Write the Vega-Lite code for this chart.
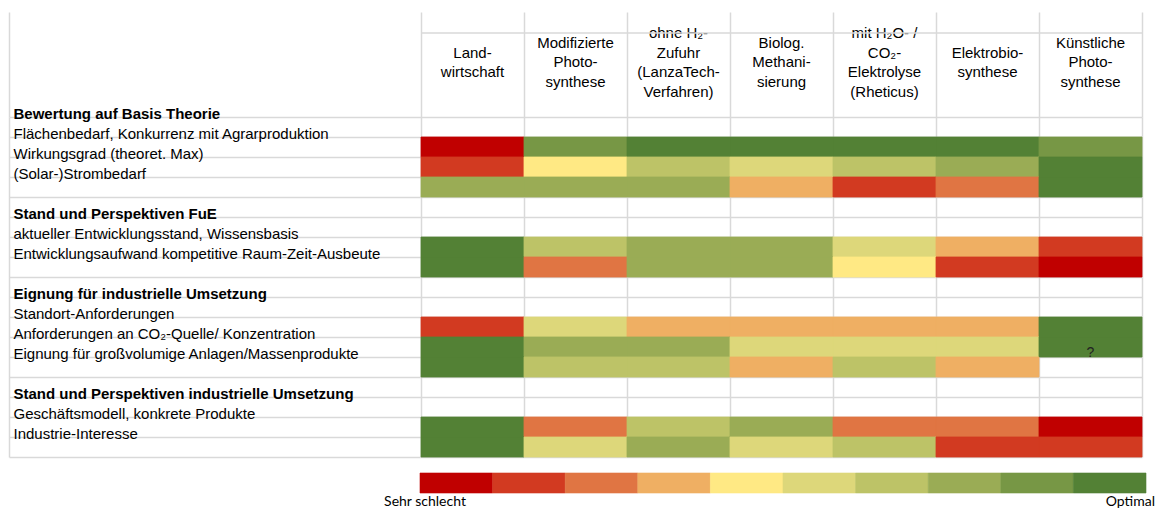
{
  "$schema": "https://vega.github.io/schema/vega-lite/v6.json",
  "padding": {"left": 9, "top": 12, "right": 0, "bottom": 0},
  "background": "white",
  "config": {"view": {"stroke": null}, "font": "Liberation Sans"},
  "datasets": {
    "methods": [
      {"method": "m1", "head": "Land-\nwirtschaft"},
      {"method": "m2", "head": "Modifizierte\nPhoto-\nsynthese"},
      {"method": "m3", "head": "ohne H₂-\nZufuhr\n(LanzaTech-\nVerfahren)"},
      {"method": "m4", "head": "Biolog.\nMethani-\nsierung"},
      {"method": "m5", "head": "mit H₂O- /\nCO₂-\nElektrolyse\n(Rheticus)"},
      {"method": "m6", "head": "Elektrobio-\nsynthese"},
      {"method": "m7", "head": "Künstliche\nPhoto-\nsynthese"}
    ],
    "cells": [
      {"row": "Flächenbedarf, Konkurrenz mit Agrarproduktion", "method": "m1", "rating": 1},
      {"row": "Flächenbedarf, Konkurrenz mit Agrarproduktion", "method": "m2", "rating": 9},
      {"row": "Flächenbedarf, Konkurrenz mit Agrarproduktion", "method": "m3", "rating": 10},
      {"row": "Flächenbedarf, Konkurrenz mit Agrarproduktion", "method": "m4", "rating": 10},
      {"row": "Flächenbedarf, Konkurrenz mit Agrarproduktion", "method": "m5", "rating": 10},
      {"row": "Flächenbedarf, Konkurrenz mit Agrarproduktion", "method": "m6", "rating": 10},
      {"row": "Flächenbedarf, Konkurrenz mit Agrarproduktion", "method": "m7", "rating": 9},
      {"row": "Wirkungsgrad (theoret. Max)", "method": "m1", "rating": 2},
      {"row": "Wirkungsgrad (theoret. Max)", "method": "m2", "rating": 5},
      {"row": "Wirkungsgrad (theoret. Max)", "method": "m3", "rating": 7},
      {"row": "Wirkungsgrad (theoret. Max)", "method": "m4", "rating": 6},
      {"row": "Wirkungsgrad (theoret. Max)", "method": "m5", "rating": 7},
      {"row": "Wirkungsgrad (theoret. Max)", "method": "m6", "rating": 8},
      {"row": "Wirkungsgrad (theoret. Max)", "method": "m7", "rating": 10},
      {"row": "(Solar-)Strombedarf", "method": "m1", "rating": 8},
      {"row": "(Solar-)Strombedarf", "method": "m2", "rating": 8},
      {"row": "(Solar-)Strombedarf", "method": "m3", "rating": 8},
      {"row": "(Solar-)Strombedarf", "method": "m4", "rating": 4},
      {"row": "(Solar-)Strombedarf", "method": "m5", "rating": 2},
      {"row": "(Solar-)Strombedarf", "method": "m6", "rating": 3},
      {"row": "(Solar-)Strombedarf", "method": "m7", "rating": 10},
      {"row": "aktueller Entwicklungsstand, Wissensbasis", "method": "m1", "rating": 10},
      {"row": "aktueller Entwicklungsstand, Wissensbasis", "method": "m2", "rating": 7},
      {"row": "aktueller Entwicklungsstand, Wissensbasis", "method": "m3", "rating": 8},
      {"row": "aktueller Entwicklungsstand, Wissensbasis", "method": "m4", "rating": 8},
      {"row": "aktueller Entwicklungsstand, Wissensbasis", "method": "m5", "rating": 6},
      {"row": "aktueller Entwicklungsstand, Wissensbasis", "method": "m6", "rating": 4},
      {"row": "aktueller Entwicklungsstand, Wissensbasis", "method": "m7", "rating": 2},
      {"row": "Entwicklungsaufwand kompetitive Raum-Zeit-Ausbeute", "method": "m1", "rating": 10},
      {"row": "Entwicklungsaufwand kompetitive Raum-Zeit-Ausbeute", "method": "m2", "rating": 3},
      {"row": "Entwicklungsaufwand kompetitive Raum-Zeit-Ausbeute", "method": "m3", "rating": 8},
      {"row": "Entwicklungsaufwand kompetitive Raum-Zeit-Ausbeute", "method": "m4", "rating": 8},
      {"row": "Entwicklungsaufwand kompetitive Raum-Zeit-Ausbeute", "method": "m5", "rating": 5},
      {"row": "Entwicklungsaufwand kompetitive Raum-Zeit-Ausbeute", "method": "m6", "rating": 2},
      {"row": "Entwicklungsaufwand kompetitive Raum-Zeit-Ausbeute", "method": "m7", "rating": 1},
      {"row": "Standort-Anforderungen", "method": "m1", "rating": 2},
      {"row": "Standort-Anforderungen", "method": "m2", "rating": 6},
      {"row": "Standort-Anforderungen", "method": "m3", "rating": 4},
      {"row": "Standort-Anforderungen", "method": "m4", "rating": 4},
      {"row": "Standort-Anforderungen", "method": "m5", "rating": 4},
      {"row": "Standort-Anforderungen", "method": "m6", "rating": 4},
      {"row": "Standort-Anforderungen", "method": "m7", "rating": 10},
      {"row": "Anforderungen an CO₂-Quelle/ Konzentration", "method": "m1", "rating": 10},
      {"row": "Anforderungen an CO₂-Quelle/ Konzentration", "method": "m2", "rating": 8},
      {"row": "Anforderungen an CO₂-Quelle/ Konzentration", "method": "m3", "rating": 8},
      {"row": "Anforderungen an CO₂-Quelle/ Konzentration", "method": "m4", "rating": 6},
      {"row": "Anforderungen an CO₂-Quelle/ Konzentration", "method": "m5", "rating": 6},
      {"row": "Anforderungen an CO₂-Quelle/ Konzentration", "method": "m6", "rating": 6},
      {"row": "Anforderungen an CO₂-Quelle/ Konzentration", "method": "m7", "rating": 10},
      {"row": "Eignung für großvolumige Anlagen/Massenprodukte", "method": "m1", "rating": 10},
      {"row": "Eignung für großvolumige Anlagen/Massenprodukte", "method": "m2", "rating": 7},
      {"row": "Eignung für großvolumige Anlagen/Massenprodukte", "method": "m3", "rating": 7},
      {"row": "Eignung für großvolumige Anlagen/Massenprodukte", "method": "m4", "rating": 4},
      {"row": "Eignung für großvolumige Anlagen/Massenprodukte", "method": "m5", "rating": 7},
      {"row": "Eignung für großvolumige Anlagen/Massenprodukte", "method": "m6", "rating": 4},
      {"row": "Geschäftsmodell, konkrete Produkte", "method": "m1", "rating": 10},
      {"row": "Geschäftsmodell, konkrete Produkte", "method": "m2", "rating": 3},
      {"row": "Geschäftsmodell, konkrete Produkte", "method": "m3", "rating": 7},
      {"row": "Geschäftsmodell, konkrete Produkte", "method": "m4", "rating": 8},
      {"row": "Geschäftsmodell, konkrete Produkte", "method": "m5", "rating": 3},
      {"row": "Geschäftsmodell, konkrete Produkte", "method": "m6", "rating": 3},
      {"row": "Geschäftsmodell, konkrete Produkte", "method": "m7", "rating": 1},
      {"row": "Industrie-Interesse", "method": "m1", "rating": 10},
      {"row": "Industrie-Interesse", "method": "m2", "rating": 6},
      {"row": "Industrie-Interesse", "method": "m3", "rating": 8},
      {"row": "Industrie-Interesse", "method": "m4", "rating": 6},
      {"row": "Industrie-Interesse", "method": "m5", "rating": 7},
      {"row": "Industrie-Interesse", "method": "m6", "rating": 2},
      {"row": "Industrie-Interesse", "method": "m7", "rating": 2}
    ],
    "scale10": [
      {"rating": 1}, {"rating": 2}, {"rating": 3}, {"rating": 4}, {"rating": 5},
      {"rating": 6}, {"rating": 7}, {"rating": 8}, {"rating": 9}, {"rating": 10}
    ]
  },
  "resolve": {"scale": {"x": "independent", "y": "independent"}},
  "spacing": 0,
  "bounds": "flush",
  "vconcat": [
    {
      "width": 1133,
      "height": 105,
      "data": {"name": "methods"},
      "layer": [
        {
          "mark": {"type": "text", "lineBreak": "\n", "lineHeight": 19.5, "font": "Liberation Sans", "fontSize": 15, "baseline": "middle", "align": "center", "color": "#000000",
            "dy": {"expr": "-9.75 * (length(split(datum.head, '\\n')) - 1)"}},
          "encoding": {
            "x": {
              "field": "method", "type": "nominal",
              "scale": {"domain": ["c0", "c1", "c2", "c3", "m1", "m2", "m3", "m4", "m5", "m6", "m7"], "paddingInner": 0, "paddingOuter": 0},
              "axis": {"orient": "top", "title": null, "labels": false, "ticks": false, "domain": false, "grid": true, "zindex": 0, "tickBand": "extent", "gridColor": "#D9D9D9", "gridWidth": 1.5,
                "gridOpacity": {"condition": {"test": "indexof(['c0','c1','c2'], datum.value) >= 0", "value": 0}, "value": 1}}
            },
            "y": {"datum": "b2", "type": "nominal", "bandPosition": 0.4, "scale": {"domain": ["t", "b1", "b2", "b3", "b4"], "paddingInner": 0, "paddingOuter": 0}, "axis": null},
            "text": {"field": "head"}
          }
        },
        {
          "mark": {"type": "tick", "orient": "horizontal", "color": "#D9D9D9", "opacity": 1, "thickness": 1.5, "size": 103},
          "encoding": {
            "x": {"field": "method", "type": "nominal"},
            "y": {"datum": "t", "type": "nominal", "bandPosition": 1}
          }
        }
      ]
    },
    {
      "width": 1133,
      "height": 340,
      "layer": [
        {
          "data": {"name": "cells"},
          "mark": {"type": "rect", "strokeWidth": 0.8},
          "encoding": {
            "x": {
              "field": "method", "type": "nominal",
              "scale": {"domain": ["c0", "c1", "c2", "c3", "m1", "m2", "m3", "m4", "m5", "m6", "m7"], "paddingInner": 0, "paddingOuter": 0},
              "axis": {"orient": "top", "title": null, "labels": false, "ticks": false, "domain": false, "grid": true, "zindex": 0, "tickBand": "extent", "gridColor": "#D9D9D9", "gridWidth": 1.5,
                "gridOpacity": {"condition": {"test": "indexof(['c0','c1','c2'], datum.value) >= 0", "value": 0}, "value": 1}}
            },
            "y": {
              "field": "row", "type": "nominal",
              "scale": {"domain": [
                "Bewertung auf Basis Theorie",
                "Flächenbedarf, Konkurrenz mit Agrarproduktion",
                "Wirkungsgrad (theoret. Max)",
                "(Solar-)Strombedarf",
                "s1",
                "Stand und Perspektiven FuE",
                "aktueller Entwicklungsstand, Wissensbasis",
                "Entwicklungsaufwand kompetitive Raum-Zeit-Ausbeute",
                "s2",
                "Eignung für industrielle Umsetzung",
                "Standort-Anforderungen",
                "Anforderungen an CO₂-Quelle/ Konzentration",
                "Eignung für großvolumige Anlagen/Massenprodukte",
                "s3",
                "Stand und Perspektiven industrielle Umsetzung",
                "Geschäftsmodell, konkrete Produkte",
                "Industrie-Interesse"
              ], "paddingInner": 0, "paddingOuter": 0},
              "axis": {
                "orient": "left", "title": null, "grid": true, "zindex": 0, "tickBand": "extent", "gridColor": "#D9D9D9", "gridWidth": 1.5,
                "ticks": false, "domain": false,
                "labelAlign": "left", "labelBaseline": "alphabetic", "labelPadding": -4, "labelOffset": -9,
                "labelFont": "Liberation Sans", "labelFontSize": 15, "labelColor": "#000000", "labelLimit": 700,
                "labelExpr": "indexof(['s1','s2','s3'], datum.value) >= 0 ? '' : datum.value",
                "labelFontWeight": {"condition": {"test": "indexof(['Bewertung auf Basis Theorie','Stand und Perspektiven FuE','Eignung für industrielle Umsetzung','Stand und Perspektiven industrielle Umsetzung'], datum.value) >= 0", "value": "bold"}, "value": "normal"}
              }
            },
            "fill": {"field": "rating", "type": "ordinal", "scale": {"domain": [1, 2, 3, 4, 5, 6, 7, 8, 9, 10], "range": ["#C00000", "#D23A21", "#E07543", "#EFAF63", "#FFE984", "#DDD77A", "#BDC367", "#9AAC55", "#779745", "#538135"]}, "legend": null},
            "stroke": {"field": "rating", "type": "ordinal", "scale": {"domain": [1, 2, 3, 4, 5, 6, 7, 8, 9, 10], "range": ["#C00000", "#D23A21", "#E07543", "#EFAF63", "#FFE984", "#DDD77A", "#BDC367", "#9AAC55", "#779745", "#538135"]}, "legend": null}
          }
        },
        {
          "data": {"values": [{"row": "Anforderungen an CO₂-Quelle/ Konzentration", "method": "m7", "note": "?"}]},
          "mark": {"type": "text", "baseline": "middle", "align": "center", "fontSize": 14, "font": "Liberation Sans", "color": "#222222"},
          "encoding": {
            "x": {"field": "method", "type": "nominal"},
            "y": {"field": "row", "type": "nominal", "bandPosition": 0.8},
            "text": {"field": "note"}
          }
        }
      ]
    },
    {
      "width": 1133,
      "height": 52,
      "data": {"name": "scale10"},
      "layer": [
        {
          "mark": {"type": "rect", "height": 20, "strokeWidth": 0.6},
          "encoding": {
            "x": {"field": "rating", "type": "ordinal", "scale": {"domain": [1, 2, 3, 4, 5, 6, 7, 8, 9, 10], "range": [411, 1137], "paddingInner": 0, "paddingOuter": 0}, "axis": null},
            "y": {"datum": "bar", "type": "nominal", "scale": {"domain": ["g", "bar", "t"], "paddingInner": 0, "paddingOuter": 0}, "axis": null},
            "fill": {"field": "rating", "type": "ordinal", "scale": {"domain": [1, 2, 3, 4, 5, 6, 7, 8, 9, 10], "range": ["#C00000", "#D23A21", "#E07543", "#EFAF63", "#FFE984", "#DDD77A", "#BDC367", "#9AAC55", "#779745", "#538135"]}, "legend": null},
            "stroke": {"field": "rating", "type": "ordinal", "scale": {"domain": [1, 2, 3, 4, 5, 6, 7, 8, 9, 10], "range": ["#C00000", "#D23A21", "#E07543", "#EFAF63", "#FFE984", "#DDD77A", "#BDC367", "#9AAC55", "#779745", "#538135"]}, "legend": null}
          }
        },
        {
          "data": {"values": [{"rating": 1, "txt": "Sehr schlecht"}]},
          "mark": {"type": "text", "align": "center", "baseline": "middle", "dx": 5, "font": "Lato", "fontSize": 14, "color": "#000000"},
          "encoding": {
            "x": {"field": "rating", "type": "ordinal", "bandPosition": 0},
            "y": {"datum": "t", "type": "nominal", "bandPosition": 0.6},
            "text": {"field": "txt"}
          }
        },
        {
          "data": {"values": [{"rating": 10, "txt": "Optimal"}]},
          "mark": {"type": "text", "align": "right", "baseline": "middle", "dx": 9, "font": "Lato", "fontSize": 14, "color": "#000000"},
          "encoding": {
            "x": {"field": "rating", "type": "ordinal", "bandPosition": 1},
            "y": {"datum": "t", "type": "nominal", "bandPosition": 0.6},
            "text": {"field": "txt"}
          }
        }
      ]
    }
  ]
}
